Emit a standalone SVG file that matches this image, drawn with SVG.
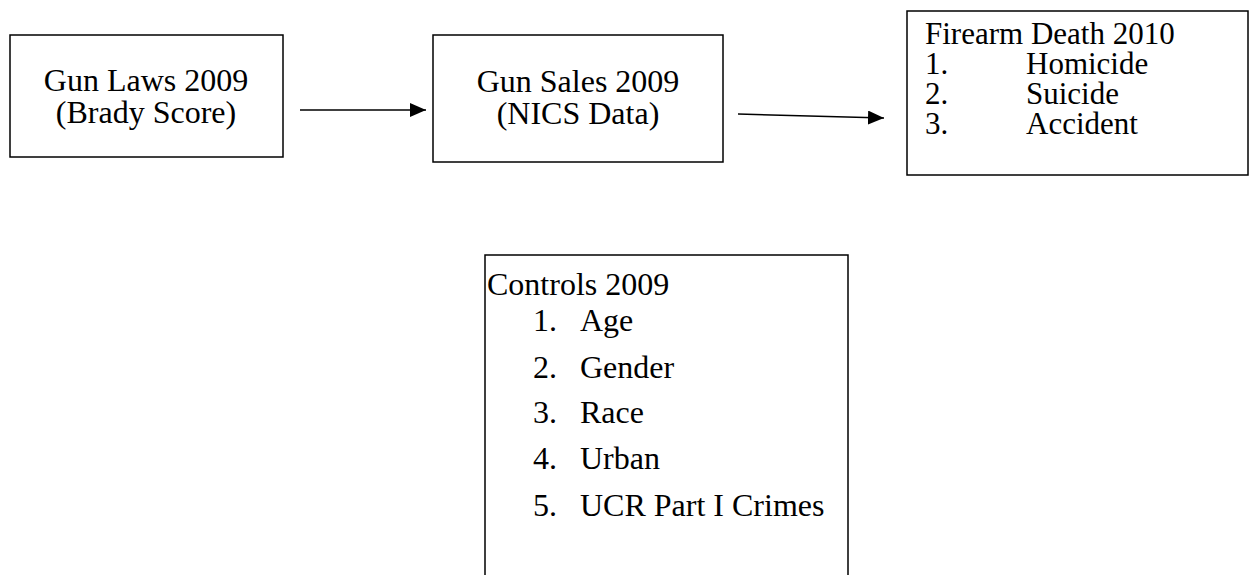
<svg xmlns="http://www.w3.org/2000/svg" width="1254" height="575" viewBox="0 0 1254 575">
<defs>
<style>
.box{fill:#fff;stroke:#000;stroke-width:1.5}
.t{font-family:'Liberation Serif','Times New Roman',serif;font-size:32px;fill:#000}
.s{font-size:31px}
.c{text-anchor:middle}
.edge{stroke:#000;stroke-width:1.5;fill:none}
</style>
<marker id="ah" markerWidth="16" markerHeight="14" refX="16" refY="7" orient="auto" markerUnits="userSpaceOnUse">
<path d="M0,0 L16,7 L0,14 Z" fill="#000"/>
</marker>
</defs>
<rect width="1254" height="575" fill="#fff"/>
<g id="gun-laws">
<rect class="box" x="10" y="35" width="273" height="122"/>
<text class="t c" x="146" y="91">Gun Laws 2009</text>
<text class="t c" x="146" y="123">(Brady Score)</text>
</g>
<g id="gun-sales">
<rect class="box" x="433" y="35" width="290" height="127"/>
<text class="t c" x="578" y="92">Gun Sales 2009</text>
<text class="t c" x="578" y="124">(NICS Data)</text>
</g>
<g id="firearm-death">
<rect class="box" x="907" y="11" width="341" height="164"/>
<text class="t s" x="925" y="44">Firearm Death 2010</text>
<text class="t s" x="925" y="74">1.</text>
<text class="t s" x="1026" y="74">Homicide</text>
<text class="t s" x="925" y="104">2.</text>
<text class="t s" x="1026" y="104">Suicide</text>
<text class="t s" x="925" y="134">3.</text>
<text class="t s" x="1026" y="134">Accident</text>
</g>
<g id="controls">
<path class="box" d="M485,590 L485,255 L848,255 L848,590"/>
<text class="t" x="487" y="295">Controls 2009</text>
<text class="t" x="533" y="331">1.</text>
<text class="t" x="580" y="331">Age</text>
<text class="t" x="533" y="378">2.</text>
<text class="t" x="580" y="378">Gender</text>
<text class="t" x="533" y="423">3.</text>
<text class="t" x="580" y="423">Race</text>
<text class="t" x="533" y="469">4.</text>
<text class="t" x="580" y="469">Urban</text>
<text class="t" x="533" y="516">5.</text>
<text class="t" x="580" y="516">UCR Part I Crimes</text>
</g>
<g id="connectors">
<line class="edge" x1="300" y1="110" x2="426" y2="110" marker-end="url(#ah)"/>
<line class="edge" x1="738" y1="114" x2="884" y2="118" marker-end="url(#ah)"/>
</g>
</svg>
